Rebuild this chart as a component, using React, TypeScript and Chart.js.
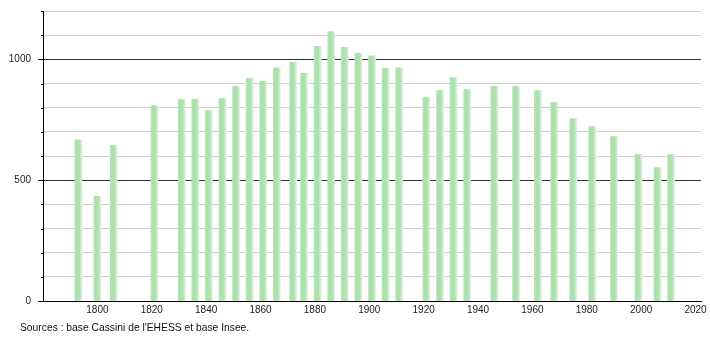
import React, { useEffect, useRef } from "react";
import { Chart, registerables } from "chart.js";

Chart.register(...registerables);

const years = [1793, 1800, 1806, 1821, 1831, 1836, 1841, 1846, 1851, 1856, 1861, 1866, 1872, 1876, 1881, 1886, 1891, 1896, 1901, 1906, 1911, 1921, 1926, 1931, 1936, 1946, 1954, 1962, 1968, 1975, 1982, 1990, 1999, 2006, 2011];
const population = [667, 433, 643, 809, 833, 834, 788, 838, 888, 921, 909, 965, 988, 942, 1054, 1115, 1050, 1025, 1014, 963, 965, 842, 871, 925, 875, 888, 888, 871, 822, 755, 722, 680, 606, 552, 606];
const xTickLabels = [1800, 1820, 1840, 1860, 1880, 1900, 1920, 1940, 1960, 1980, 2000, 2020];
const yLabelValues = [0, 500, 1000];
const sourceText = "Sources : base Cassini de l'EHESS et base Insee.";

const FONT = "'Liberation Sans', Arial, sans-serif";

export default function App() {
  const ref = useRef<HTMLCanvasElement | null>(null);

  useEffect(() => {
    document.body.style.margin = "0";
    const canvas = ref.current!;
    const extras = {
      id: "extras",
      afterDraw(chart: any) {
        const c = chart.ctx;
        const y = chart.scales.y;
        const area = chart.chartArea;
        c.save();
        c.strokeStyle = "#000";
        c.lineWidth = 1;
        for (let v = 100; v <= 1200; v += 100) {
          if (v % 500 === 0) continue;
          const py = Math.round(y.getPixelForValue(v)) + 0.5;
          c.beginPath();
          c.moveTo(area.left - 2, py);
          c.lineTo(area.left, py);
          c.stroke();
        }
        c.fillStyle = "#111";
        c.font = "10.3px " + FONT;
        c.textBaseline = "middle";
        c.textAlign = "left";
        c.fillText(sourceText, 20, 328);
        c.restore();
      },
    };

    const chart = new Chart(canvas, {
      type: "bar",
      data: {
        datasets: [
          {
            data: years.map((yr, i) => ({ x: yr, y: population[i] })),
            barThickness: 7,
            borderWidth: 0,
            backgroundColor: (ctx: any) => {
              const ch = ctx.chart;
              const sx = ch.scales && ch.scales.x;
              const raw = ctx.raw;
              if (!sx || !raw) return "#ade0ad";
              const px = sx.getPixelForValue(raw.x);
              if (!Number.isFinite(px)) return "#ade0ad";
              const g = ch.ctx.createLinearGradient(px - 3.5, 0, px + 3.5, 0);
              g.addColorStop(0, "#b6e5b6");
              g.addColorStop(0.25, "#aadfaa");
              g.addColorStop(0.65, "#b1e2b1");
              g.addColorStop(1, "#dbf3db");
              return g;
            },
          } as any,
        ],
      },
      options: {
        animation: false,
        responsive: false,
        events: [],
        layout: { padding: { left: 0, right: 9, top: 11, bottom: 0 } },
        plugins: { legend: { display: false }, tooltip: { enabled: false }, title: { display: false } },
        scales: {
          x: {
            type: "linear",
            min: 1780,
            max: 2022,
            offset: false,
            afterBuildTicks: (s: any) => {
              s.ticks = xTickLabels.map((v) => ({ value: v }));
            },
            afterFit: (s: any) => {
              s.height = 39;
              s.paddingLeft = 0;
              s.paddingRight = 0;
            },
            grid: { display: false, drawTicks: false },
            border: { display: true, color: "#000", width: 1 },
            ticks: {
              padding: 3,
              maxRotation: 0,
              autoSkip: false,
              color: "#222",
              font: { family: FONT, size: 10 },
              callback: (v: any) => String(v),
            },
          },
          y: {
            min: 0,
            max: 1200,
            afterFit: (s: any) => {
              s.width = 43;
              s.paddingTop = 0;
              s.paddingBottom = 0;
            },
            grid: {
              color: (ctx: any) => (ctx.tick && ctx.tick.value % 500 === 0 ? "#333" : "#cfcfcf"),
              tickColor: (ctx: any) => (ctx.tick && ctx.tick.value % 500 === 0 ? "#000" : "rgba(0,0,0,0)"),
              tickLength: 5,
              lineWidth: 1,
            },
            border: { display: true, color: "#000", width: 1 },
            ticks: {
              stepSize: 100,
              padding: 7,
              autoSkip: false,
              color: "#222",
              font: { family: FONT, size: 10 },
              callback: (v: any) => (yLabelValues.includes(Number(v)) ? String(v) : ""),
            },
          },
        },
      },
      plugins: [extras],
    });
    return () => chart.destroy();
  }, []);

  return (
    <div style={{ position: "absolute", left: 0, top: 0, width: 710, height: 340, background: "#fff" }}>
      <canvas ref={ref} width={710} height={340} style={{ display: "block" }} />
    </div>
  );
}
